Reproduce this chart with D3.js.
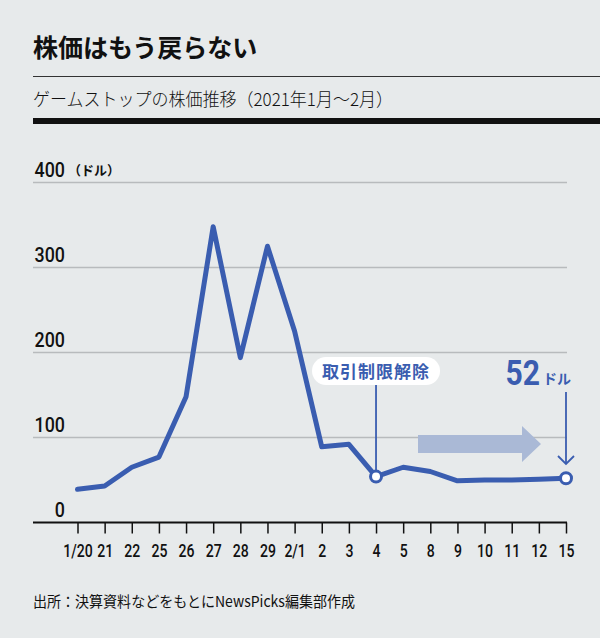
<!DOCTYPE html>
<html>
<head>
<meta charset="utf-8">
<script src="https://cdn.jsdelivr.net/npm/d3@7"></script>
<style>
  body { margin: 0; background: #e7eaeb; }
  svg { display: block; }
  .jp { font-family: "Noto Sans CJK JP", sans-serif; }
  .num { font-family: "Roboto", sans-serif; font-weight: 500; }
</style>
</head>
<body>
<svg id="chart" width="600" height="638"></svg>
<script>
const dates = ["1/20", "21", "22", "25", "26", "27", "28", "29", "2/1", "2", "3", "4", "5", "8", "9", "10", "11", "12", "15"];
const prices = [39, 43, 65, 77, 148, 348, 194, 325, 225, 89, 92, 54, 65, 60, 49, 50, 50, 51, 52];
const yTicks = [0, 100, 200, 300, 400];

const blue = "#3a5db0";
const svg = d3.select("#chart");

svg.append("rect").attr("width", 600).attr("height", 638).attr("fill", "#e7eaeb");

// header
svg.append("text").attr("class", "jp")
  .attr("x", 33).attr("y", 57)
  .style("font-size", "25px").style("font-weight", "bold").attr("fill", "#111")
  .text("株価はもう戻らない");
svg.append("line").attr("x1", 33).attr("x2", 600).attr("y1", 76.5).attr("y2", 76.5)
  .attr("stroke", "#333").attr("stroke-width", 1.2);
svg.append("text").attr("class", "jp")
  .attr("x", 33).attr("y", 106)
  .attr("textLength", 360).attr("lengthAdjust", "spacingAndGlyphs")
  .style("font-size", "18px").style("font-weight", 300).attr("fill", "#111")
  .text("ゲームストップの株価推移（2021年1月～2月）");
svg.append("rect").attr("x", 33).attr("y", 118).attr("width", 567).attr("height", 6).attr("fill", "#111");

const x = d3.scalePoint().domain(dates).range([77.5, 566]);
const y = d3.scaleLinear().domain([0, 400]).range([522.5, 182.5]);

// gridlines
svg.append("g")
  .selectAll("line")
  .data(yTicks.filter(d => d > 0))
  .enter()
  .append("line")
  .attr("x1", 33).attr("x2", 567)
  .attr("y1", d => y(d)).attr("y2", d => y(d))
  .attr("stroke", "#b8bbbd").attr("stroke-width", 1.5);

// y labels (condensed look)
svg.append("g")
  .selectAll("text")
  .data(yTicks)
  .enter()
  .append("text")
  .attr("class", "num")
  .attr("transform", d => `translate(65, ${y(d) - 6}) scale(0.85, 1)`)
  .attr("text-anchor", "end")
  .style("font-size", "21px")
  .attr("fill", "#111")
  .text(d => d);
svg.append("text").attr("class", "jp")
  .attr("x", 68).attr("y", y(400) - 8)
  .style("font-size", "13px").style("font-weight", "bold").attr("fill", "#111")
  .text("（ドル）");

// x axis
const xAxis = svg.append("g")
  .attr("transform", `translate(0, ${y(0)})`)
  .call(d3.axisBottom(x).tickSize(11).tickPadding(9));
xAxis.select(".domain").remove();
xAxis.selectAll(".tick line").attr("stroke", "#111").attr("stroke-width", 1.5);
xAxis.selectAll(".tick text")
  .attr("class", "num")
  .attr("y", 0)
  .attr("dy", 0)
  .attr("transform", "translate(0, 34) scale(0.74, 1)")
  .style("font-size", "19px")
  .attr("fill", "#111");
svg.append("line").attr("x1", 33).attr("x2", 567).attr("y1", y(0)).attr("y2", y(0))
  .attr("stroke", "#111").attr("stroke-width", 2);

// light arrow
const aY = 444;
svg.append("path")
  .attr("d", `M418,${aY - 9} L522,${aY - 9} L522,${aY - 18} L541,${aY} L522,${aY + 18} L522,${aY + 9} L418,${aY + 9} Z`)
  .attr("fill", "#aab9d6");

// price line
const line = d3.line().x((d, i) => x(dates[i])).y(d => y(d));
svg.append("path")
  .datum(prices)
  .attr("d", line)
  .attr("fill", "none")
  .attr("stroke", blue)
  .attr("stroke-width", 5)
  .attr("stroke-linejoin", "round")
  .attr("stroke-linecap", "round");

// annotation: 取引制限解除
const iLift = dates.indexOf("4");
svg.append("line")
  .attr("x1", x("4")).attr("x2", x("4"))
  .attr("y1", 385).attr("y2", y(prices[iLift]))
  .attr("stroke", blue).attr("stroke-width", 1.8);
svg.append("rect")
  .attr("x", x("4") - 64).attr("y", 357).attr("width", 128).attr("height", 28).attr("rx", 14)
  .attr("fill", "#ffffff");
svg.append("text").attr("class", "jp")
  .attr("x", x("4")).attr("y", 378)
  .attr("text-anchor", "middle")
  .style("font-size", "17px").style("font-weight", "bold").style("letter-spacing", "1px")
  .attr("fill", blue)
  .text("取引制限解除");

// annotation: 52ドル
const last = dates[dates.length - 1];
const lastVal = prices[prices.length - 1];
svg.append("text").attr("class", "num")
  .attr("transform", "translate(540, 385) scale(0.86, 1)")
  .attr("text-anchor", "end")
  .style("font-size", "35px").style("font-weight", "bold")
  .attr("fill", blue)
  .text(lastVal);
svg.append("text").attr("class", "jp")
  .attr("x", 543).attr("y", 384)
  .style("font-size", "14px").style("font-weight", "bold")
  .attr("fill", blue)
  .text("ドル");
svg.append("line")
  .attr("x1", x(last)).attr("x2", x(last))
  .attr("y1", 392).attr("y2", 464)
  .attr("stroke", blue).attr("stroke-width", 1.8);
svg.append("path")
  .attr("d", `M${x(last) - 8},${456} L${x(last)},${464} L${x(last) + 8},${456}`)
  .attr("fill", "none").attr("stroke", blue).attr("stroke-width", 1.8);

// markers
svg.append("g")
  .selectAll("circle")
  .data([iLift, dates.length - 1])
  .enter()
  .append("circle")
  .attr("cx", i => x(dates[i]))
  .attr("cy", i => y(prices[i]))
  .attr("r", 5.5)
  .attr("fill", "#ffffff")
  .attr("stroke", blue)
  .attr("stroke-width", 3);

// footer
svg.append("text").attr("class", "jp")
  .attr("x", 33).attr("y", 607)
  .attr("textLength", 322).attr("lengthAdjust", "spacingAndGlyphs")
  .style("font-size", "15px").attr("fill", "#111")
  .text("出所：決算資料などをもとにNewsPicks編集部作成");
</script>
</body>
</html>
